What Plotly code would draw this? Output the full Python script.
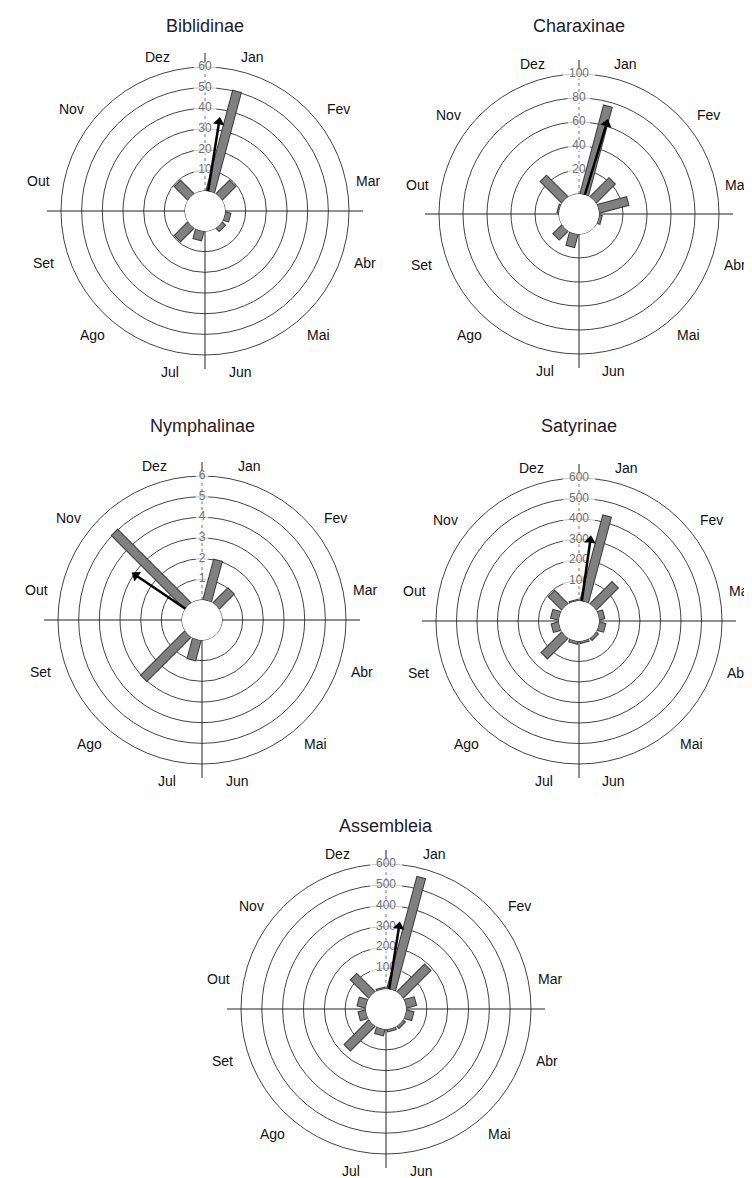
import numpy as np
import plotly.graph_objects as go

# ---------------- data ----------------
MONTHS = ["Jan", "Fev", "Mar", "Abr", "Mai", "Jun", "Jul", "Ago", "Set", "Out", "Nov", "Dez"]
MONTH_ANGLES = [15, 45, 75, 105, 135, 165, 195, 225, 255, 285, 315, 345]  # month centres, deg clockwise from north

TITLES = ["Biblidinae", "Charaxinae", "Nymphalinae", "Satyrinae", "Assembleia"]

BIBLIDINAE = [50, 9, 0, 2.5, 2, 0, 4.5, 9, 0, 0, 9, 0]
CHARAXINAE = [76, 22, 25, 2, 0, 0, 11, 10, 0, 1, 25, 0]
NYMPHALINAE = [2, 1, 0, 0, 0, 0, 1, 3, 0, 0, 5, 0]
SATYRINAE = [430, 150, 25, 30, 12, 8, 12, 140, 35, 38, 90, 4]
ASSEMBLEIA = [555, 185, 48, 35, 12, 10, 30, 165, 35, 40, 122, 5]

RADIAL_TICKS = [
    [10, 20, 30, 40, 50, 60],
    [20, 40, 60, 80, 100],
    [1, 2, 3, 4, 5, 6],
    [100, 200, 300, 400, 500, 600],
    [100, 200, 300, 400, 500, 600],
]

# mean vector (arrow): direction in degrees and length in radial units
ARROW_DIR = [9, 17, 304, 8, 9]
ARROW_LEN = [34, 62, 2.9, 300, 305]

SERIES = [BIBLIDINAE, CHARAXINAE, NYMPHALINAE, SATYRINAE, ASSEMBLEIA]

# ---------------- layout geometry (pixels) ----------------
W, H = 752, 1178
CENTERS = [(197, 203), (571, 206), (194, 612), (571, 613), (378, 1001)]
OUTER_PX = [144, 140, 144, 143, 145]
TITLE_Y = [18, 18, 418, 418, 818]
HOLE_PX = 20
EXT_PX = 14
# month label placement (pixel offsets from the rose centre, for a 144 px rose)
LABEL_OFFSETS = [(48, -154), (133, -102), (163, -30), (160, 52), (113, 124), (35, 161),
                 (-35, 161), (-113, 124), (-162, 52), (-166, -30), (-134, -102), (-48, -154)]

FONT = "Liberation Sans, Arial, sans-serif"
BAR_FILL = "#808080"
BAR_EDGE = "#3a3a3a"
GRID = "#444444"

fig = go.Figure()
layout_updates = {}
annotations = []

for k in range(5):
    name = "polar" if k == 0 else f"polar{k + 1}"
    sub = name
    vals = SERIES[k]
    ticks = RADIAL_TICKS[k]
    top = ticks[-1]
    cx, cy = CENTERS[k]
    outer = OUTER_PX[k]
    data_px = outer - HOLE_PX
    px_per_unit = data_px / top
    rmax = top + EXT_PX / px_per_unit
    R = outer + EXT_PX

    # crosshair (inside the disk)
    for ang in [90, 180, 270]:
        fig.add_trace(go.Scatterpolar(r=[0, rmax], theta=[ang, ang], mode="lines",
                                      line=dict(color="#222222", width=1),
                                      hoverinfo="skip", showlegend=False, subplot=sub))
    fig.add_trace(go.Scatterpolar(r=[0, top], theta=[0, 0], mode="lines",
                                  line=dict(color="#777777", width=1, dash="dot"),
                                  hoverinfo="skip", showlegend=False, subplot=sub))
    fig.add_trace(go.Scatterpolar(r=[top, rmax], theta=[0, 0], mode="lines",
                                  line=dict(color="#222222", width=1),
                                  hoverinfo="skip", showlegend=False, subplot=sub))

    # radial tick labels along north
    labels = [str(t) for t in ticks]
    fig.add_trace(go.Scatterpolar(
        r=ticks, theta=[0] * len(ticks), mode="markers+text", text=labels,
        textposition="middle center",
        textfont=dict(family=FONT, size=12, color="#707070"),
        marker=dict(symbol="line-ew", size=[7 * len(s) + 2 for s in labels],
                    line=dict(color="white", width=10), color="white"),
        hoverinfo="skip", showlegend=False, subplot=sub))

    # bars as thick butt-capped radial segments
    pad = 1.0 / px_per_unit
    r_edge, r_fill, th = [], [], []
    for v, a in zip(vals, MONTH_ANGLES):
        if v <= 0:
            continue
        r_edge += [0, v + pad, None]
        r_fill += [0, v, None]
        th += [a, a, None]
    fig.add_trace(go.Scatterpolar(r=r_edge, theta=th, mode="lines",
                                  line=dict(color=BAR_EDGE, width=10),
                                  connectgaps=False, hoverinfo="skip",
                                  showlegend=False, subplot=sub))
    fig.add_trace(go.Scatterpolar(r=r_fill, theta=th, mode="lines",
                                  line=dict(color=BAR_FILL, width=8),
                                  connectgaps=False, hoverinfo="skip",
                                  showlegend=False, subplot=sub))

    # hole outline
    circ = np.linspace(0, 360, 181)
    fig.add_trace(go.Scatterpolar(r=[0] * len(circ), theta=circ, mode="lines",
                                  line=dict(color="#222222", width=1),
                                  hoverinfo="skip", showlegend=False, subplot=sub))

    # mean vector arrow
    ad, al = ARROW_DIR[k], ARROW_LEN[k]
    fig.add_trace(go.Scatterpolar(r=[0, al], theta=[ad, ad], mode="lines",
                                  line=dict(color="black", width=2.5),
                                  hoverinfo="skip", showlegend=False, subplot=sub))
    fig.add_trace(go.Scatterpolar(r=[al], theta=[ad], mode="markers",
                                  marker=dict(symbol="triangle-up", size=10, angle=ad,
                                              color="black"),
                                  hoverinfo="skip", showlegend=False, subplot=sub))

    layout_updates[name] = dict(
        domain=dict(x=[(cx - R) / W, (cx + R) / W],
                    y=[1 - (cy + R) / H, 1 - (cy - R) / H]),
        hole=HOLE_PX / R,
        bgcolor="rgba(0,0,0,0)",
        radialaxis=dict(range=[0, rmax], tickvals=ticks, showticklabels=False,
                        ticks="", showline=False, showgrid=True,
                        gridcolor=GRID, gridwidth=1),
        angularaxis=dict(direction="clockwise", rotation=90,
                         tickmode="array", tickvals=MONTH_ANGLES,
                         showticklabels=False, showgrid=False, showline=False,
                         ticks=""),
    )

    # month labels
    s = outer / 144.0
    for m, (dx, dy) in zip(MONTHS, LABEL_OFFSETS):
        annotations.append(dict(text=m, x=(cx + dx * s) / W, y=1 - (cy + dy * s) / H,
                                xref="paper", yref="paper", showarrow=False,
                                xanchor="center", yanchor="middle",
                                font=dict(family=FONT, size=14, color="#111111")))

    annotations.append(dict(text=TITLES[k], x=cx / W, y=1 - TITLE_Y[k] / H,
                            xref="paper", yref="paper", showarrow=False,
                            xanchor="center", yanchor="middle",
                            font=dict(family=FONT, size=18, color="#1c1c2a")))

fig.update_layout(
    width=W, height=H,
    margin=dict(l=0, r=0, t=0, b=0),
    paper_bgcolor="white", plot_bgcolor="white",
    showlegend=False,
    annotations=annotations,
    **layout_updates,
)

fig.write_html("out.html")
